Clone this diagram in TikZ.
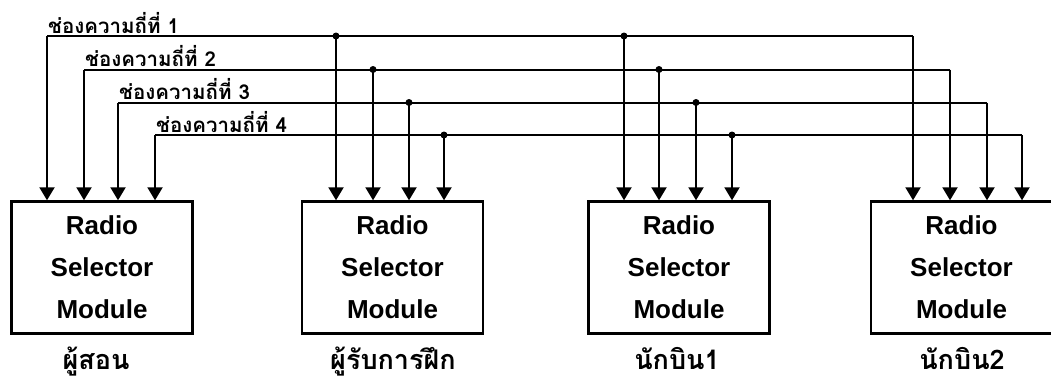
\documentclass[tikz,border=0pt]{standalone}
\usepackage{fontspec}
\setmainfont{Liberation Sans}
\newfontfamily\thaifont[Script=Thai]{Loma}
\usetikzlibrary{arrows.meta}
\tikzset{
  bus/.style={line width=2pt},
  feed/.style={line width=2pt,-{Triangle[length=13pt,width=15pt]}},
  module/.style={draw,line width=2.4pt,minimum width=181pt,minimum height=132pt,
    inner sep=0pt,align=center,font=\fontsize{26}{42}\selectfont\bfseries},
  chlabel/.style={anchor=base west,inner sep=0pt,font=\thaifont\fontsize{20.5}{22}\selectfont\bfseries},
  who/.style={anchor=base,inner sep=0pt,font=\thaifont\fontsize{27}{28}\selectfont\bfseries},
  junction/.style={circle,fill,inner sep=0pt,minimum size=7pt}
}
\begin{document}
\begin{tikzpicture}[x=1pt,y=-1pt]
\useasboundingbox (0,0) rectangle (1051,383);
% modules
\node[module] (m1) at (102,267.5) {Radio\\Selector\\Module};
\node[module] (m2) at (392.5,267.5) {Radio\\Selector\\Module};
\node[module] (m3) at (679,267.5) {Radio\\Selector\\Module};
\node[module] (m4) at (961.5,267.5) {Radio\\Selector\\Module};
% names under modules
\node[who] (w1) at (96,369) {ผู้สอน};
\node[who] (w2) at (393,369) {ผู้รับการฝึก};
\node[who] (w3) at (677,369) {นักบิน1};
\node[who] (w4) at (962,369) {นักบิน2};
% bus coordinates: start, dot A, dot B, end
\coordinate (s1) at (47,36);  \coordinate (a1) at (336,36);  \coordinate (b1) at (624,36);  \coordinate (e1) at (913,36);
\coordinate (s2) at (84,69.5);  \coordinate (a2) at (373,69.5);  \coordinate (b2) at (659,69.5);  \coordinate (e2) at (950,69.5);
\coordinate (s3) at (118,102.5); \coordinate (a3) at (409,102.5); \coordinate (b3) at (696,102.5); \coordinate (e3) at (987,102.5);
\coordinate (s4) at (155,135); \coordinate (a4) at (444,135); \coordinate (b4) at (732,135); \coordinate (e4) at (1022,135);
% labels
\node[chlabel] (l1) at (48,33) {ช่องความถี่ที่ 1};
\node[chlabel] (l2) at (85,66.5) {ช่องความถี่ที่ 2};
\node[chlabel] (l3) at (119,99.5) {ช่องความถี่ที่ 3};
\node[chlabel] (l4) at (156,132) {ช่องความถี่ที่ 4};
% buses
\foreach \i in {1,2,3,4}{
  \draw[bus] (s\i) -- (e\i);
  \node[junction] at (a\i) {};
  \node[junction] at (b\i) {};
}
% drops
\foreach \i in {1,2,3,4}{
  \draw[feed] (s\i) -- (s\i |- m1.north);
  \draw[feed] (a\i) -- (a\i |- m2.north);
  \draw[feed] (b\i) -- (b\i |- m3.north);
  \draw[feed] (e\i) -- (e\i |- m4.north);
}
\end{tikzpicture}
\end{document}
